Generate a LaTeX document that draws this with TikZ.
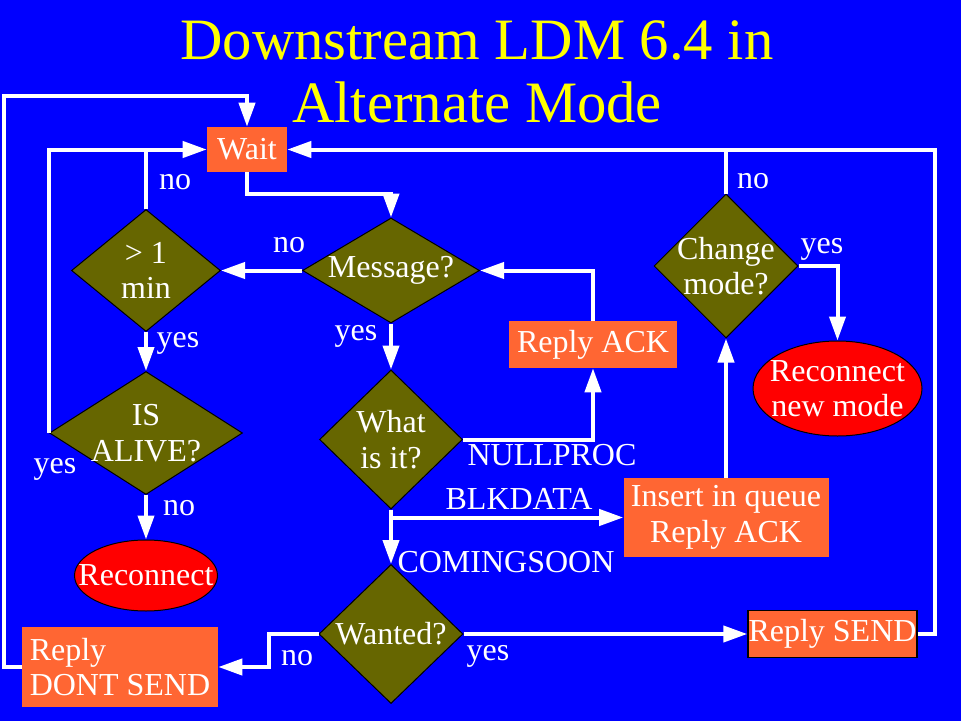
\documentclass[tikz,border=0pt]{standalone}
\usepackage{fontspec}
\setmainfont{Liberation Serif}
\usetikzlibrary{shapes.geometric,arrows.meta}
\definecolor{bgblue}{RGB}{0,0,255}
\definecolor{dolive}{RGB}{102,102,0}
\definecolor{orng}{RGB}{255,102,51}
\definecolor{ttlyellow}{RGB}{255,255,0}
\begin{document}
\begin{tikzpicture}[x=0.75pt,y=-0.75pt,
  sz/.style 2 args={minimum width=#1*0.75pt,minimum height=#2*0.75pt},
  txt/.style={text=white,font=\fontsize{24}{26.5}\selectfont,align=center,inner sep=0pt},
  box/.style={rectangle,fill=orng,inner sep=0pt,txt},
  dia/.style={diamond,fill=dolive,draw=black,line width=0.75pt,inner sep=0pt},
  ell/.style={ellipse,fill=red,draw=black,line width=0.75pt,inner sep=0pt},
  lbl/.style={txt,anchor=base},
  arr/.style={line width=3pt,draw=white,-{Triangle[length=18pt,width=12pt]}},
  ln/.style={line width=3pt,draw=white},
  ttlstyle/.style={text=ttlyellow,font=\fontsize{44}{48}\selectfont,anchor=base,inner sep=0pt}
]
\fill[bgblue] (0,0) rectangle (961,721);
\useasboundingbox (0,0) rectangle (961,721);

% title
\node[ttlstyle] (t1) at (477,59) {Downstream LDM 6.4 in};
\node[ttlstyle] (t2) at (477,122) {Alternate Mode};

% nodes
\node[box,sz={80}{45}] (wait) at (247,149.5) {Wait};
\node[dia,sz={177}{105},label={[txt]center:Message?}] (msg) at (391,270.5) {};
\node[dia,sz={149}{122},label={[txt]center:{> 1\\min}}] (min) at (146,270.5) {};
\node[dia,sz={193}{123},label={[txt]center:{IS\\ALIVE?}}] (alive) at (146,433) {};
\node[ell,sz={143}{71},label={[txt]center:Reconnect}] (rec1) at (146,575.5) {};
\node[dia,sz={143}{139},label={[txt]center:{What\\is it?}}] (what) at (391,439.5) {};
\node[box,sz={168}{47}] (ack) at (593,344.5) {Reply ACK};
\node[box,sz={205}{79}] (ins) at (726,517.5) {Insert in queue\\Reply ACK};
\node[dia,sz={144}{144},label={[txt]center:{Change\\mode?}}] (chg) at (726,266) {};
\node[ell,sz={169}{95},label={[txt]center:{Reconnect\\new mode}}] (rec2) at (837.5,388.5) {};
\node[dia,sz={144}{139},label={[txt]center:Wanted?}] (want) at (391,634) {};
\node[box,sz={169}{47},draw=black,line width=1pt] (send) at (832.5,634) {Reply SEND};
\node[box,sz={196}{80},align=left] (dont) at (120,667) {Reply\\DONT SEND};

% connectors
\coordinate (c1) at (4,96);
\coordinate (c3) at (935,149.5);
\draw[arr] (dont.west) -| (c1) -| (wait.north);
\draw[arr] (alive.west) |- (wait.west);
\draw[ln] (min.north) -- (min.north |- wait.west);
\draw[arr] (wait.south) -- ++(0,22) -| (msg.north);
\draw[arr] (msg.west) -- (min.east);
\draw[arr] (min.south) -- (alive.north);
\draw[arr] (alive.south) -- (rec1.north);
\draw[arr] (msg.south) -- (what.north);
\draw[arr] (ack.north) |- (msg.east);
\draw[arr] (what.east) -| (ack.south);
\draw[arr] (what.south) |- (ins.west);
\draw[arr] (what.south) -- (want.north);
\draw[arr] (ins.north) -- (chg.south);
\draw[ln] (chg.north) -- (chg.north |- wait.east);
\draw[arr] (send.east) -| (c3) -- (wait.east);
\draw[arr] (chg.east) -| (rec2.north);
\draw[arr] (want.east) -- (send.west);
\draw[arr] (want.west) -- ++(-50,0) |- (dont.east);

% labels
\node[lbl] (l1) at (175,189) {no};
\node[lbl] (l2) at (289,252) {no};
\node[lbl] (l3) at (356,340) {yes};
\node[lbl] (l4) at (178,347) {yes};
\node[lbl] (l5) at (55,473) {yes};
\node[lbl] (l6) at (179,515) {no};
\node[lbl] (l7) at (297,665) {no};
\node[lbl] (l8) at (488,660) {yes};
\node[lbl] (l9) at (753,188) {no};
\node[lbl] (l10) at (822,253) {yes};
\node[lbl] (l11) at (552,465) {NULLPROC};
\node[lbl] (l12) at (519,509) {BLKDATA};
\node[lbl] (l13) at (506,572) {COMINGSOON};
\end{tikzpicture}
\end{document}
